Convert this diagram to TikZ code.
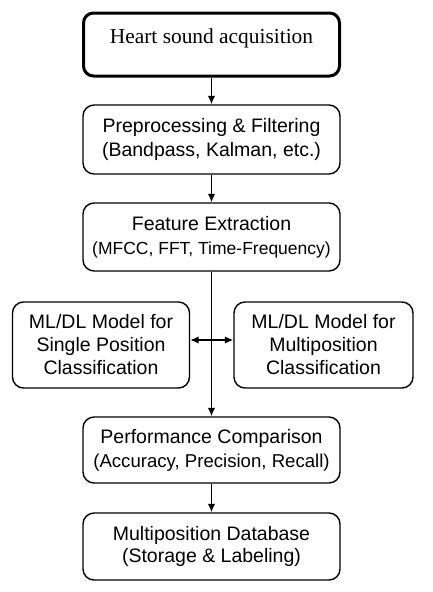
\documentclass[tikz,border=0pt]{standalone}
\usepackage{fontspec}
\setmainfont{Liberation Serif}
\setsansfont{Liberation Sans}
\usepackage{tikz}
\usetikzlibrary{positioning,arrows.meta}
\tikzstyle{int}=[draw, rounded corners=11pt, minimum width=257pt, minimum height=67pt, line width=1.4pt, align=center, font=\fontsize{19.5}{24}\selectfont\sffamily]
\tikzstyle{int1}=[int, minimum width=177pt, minimum height=86pt, font=\fontsize{19.5}{23}\selectfont\sffamily]
\tikzstyle{start}=[draw, rounded corners=10pt, line width=3pt, minimum width=256pt, minimum height=63pt, font=\fontsize{21.4}{25}\selectfont, text height=15pt, text depth=17.4pt]
\tikzstyle{flow}=[->, line width=1.5pt]

\begin{document}
\begin{tikzpicture}[node distance=2cm,auto,>={Latex[length=8.5pt,width=7.5pt]}]
\useasboundingbox (0,0) rectangle (433pt,-592pt);
  \node[start] at (211.5pt,-44.5pt) (acq) {Heart sound acquisition};

  \node[int, below of = acq, node distance = 95pt, minimum height=69pt] (prep) {Preprocessing \& Filtering\\(Bandpass, Kalman, etc.)};
\draw[flow] (acq) -- (prep);

  \node[int, below of = prep, node distance = 97.5pt, minimum height=68pt] (feat) {Feature Extraction\\{\fontsize{17.5}{21}\selectfont (MFCC, FFT, Time-Frequency)}};
\draw[flow] (prep) -- (feat);

\node[int1, below of = feat, node distance = 108pt, xshift = -110.5pt] (single) {ML/DL Model for\\Single Position\\Classification};
\node[int1, below of = feat, node distance = 108pt, xshift = 112pt, minimum width=179pt] (multi) {ML/DL Model for\\Multiposition\\Classification};

\node[int, below of = feat, node distance = 213pt, minimum height=66pt] (perf) {Performance Comparison\\{\fontsize{18.6}{22}\selectfont (Accuracy, Precision, Recall)}};
\draw[flow] (feat) -- (perf);
\draw[<->, line width=1.5pt] ([yshift=5pt]single.east) -- ([yshift=5pt]multi.west);

\node[int, below of = perf, node distance = 96.5pt, font=\fontsize{19.5}{22}\selectfont\sffamily] (db) {Multiposition Database\\(Storage \& Labeling)};
\draw[flow] (perf) -- (db);
\end{tikzpicture}
\end{document}
